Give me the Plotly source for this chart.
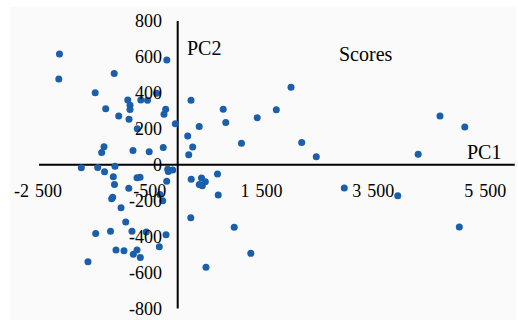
import plotly.graph_objects as go

pc1 = [-2115, -2127, -1136, -195, -1476, -893, -660, -540, -376, -1288,
       -853, -853, -215, -245, -1055, -871, -43, -723, -1318, -1360,
       -800, -510, -259, -1724, -1431, -1122, -179, -1309, -1152, -1131,
       -728, -674, -875, -168, -89, -197, -1181, -1163, -317, -268,
       -1014, -930, -1467, -1202, -818, -562, -209, -329, -1104, -961,
       -728, -794, -669, -1605,
       238, 814, 860, 385, 179, 268, 197, 1141, 1422, 1764,
       2027, 2218, 2479, 4692, 5136, 4302, 2980, 3936, 5038, 242,
       426, 494, 386, 440, 712, 725, 234, 1011, 1308, 506]
pc2 = [617, 478, 509, 584, 401, 361, 361, 360, 398, 312,
       331, 308, 309, 282, 272, 253, 228, 201, 101, 68,
       79, 72, 97, -17, -15, -8, -25, -39, -66, -109,
       -72, -70, -131, -38, -29, -92, -189, -181, -165, -200,
       -239, -318, -383, -370, -370, -374, -390, -456, -474, -478,
       -474, -498, -516, -540,
       359, 309, 236, 213, 160, 99, 56, 120, 262, 306,
       432, 124, 45, 272, 210, 59, -129, -172, -346, -81,
       -73, -94, -109, -116, -51, -168, -295, -348, -493, -571]

x_ticks = [-2500, -500, 1500, 3500, 5500]
x_labels = ["-2\u2004500", "-500", "1\u2004500", "3\u2004500", "5\u2004500"]
y_ticks = [-800, -600, -400, -200, 0, 200, 400, 600, 800]
y_labels = ["-800", "-600", "-400", "-200", "0", "200", "400", "600", "800"]

W, H = 518, 320
x0px, y0px = 177.7, 164.8
sx, sy = 0.0559, 0.1796
xr = [-x0px / sx, (W - x0px) / sx]
yr = [(y0px - H) / sy, y0px / sy]

font = "Liberation Serif, Times New Roman, serif"

fig = go.Figure()
fig.add_trace(go.Scatter(x=pc1, y=pc2, mode="markers",
                         marker=dict(size=7, color="#1b5eab"),
                         showlegend=False, hoverinfo="x+y"))

fig.update_layout(
    width=W, height=H,
    margin=dict(l=0, r=0, t=0, b=0),
    paper_bgcolor="white", plot_bgcolor="rgba(0,0,0,0)",
    font=dict(family=font, size=18, color="black"),
    xaxis=dict(range=xr, tickvals=x_ticks, ticktext=x_labels,
               showgrid=False, zeroline=False, showline=False,
               anchor="free", position=1 - y0px / H,
               ticks="outside", ticklen=10, tickcolor="rgba(0,0,0,0)",
               automargin=False, fixedrange=True),
    yaxis=dict(range=yr, tickvals=y_ticks, ticktext=y_labels,
               showgrid=False, zeroline=False, showline=False,
               anchor="free", position=x0px / W,
               ticks="outside", ticklen=12, tickcolor="rgba(0,0,0,0)",
               automargin=False, fixedrange=True),
    shapes=[
        dict(type="rect", xref="paper", yref="paper",
             x0=10 / W, x1=516 / W, y0=0, y1=1 - 7 / H,
             fillcolor="#fafafa", line=dict(width=0), layer="below"),
        dict(type="line", xref="x", yref="y", x0=-2480, x1=6030, y0=0, y1=0,
             line=dict(color="black", width=2), layer="below"),
        dict(type="line", xref="x", yref="y", x0=0, x1=0, y0=-800, y1=800,
             line=dict(color="black", width=2), layer="below"),
    ],
    annotations=[
        dict(text="Scores", xref="paper", yref="paper", x=366 / W, y=1 - 54 / H,
             showarrow=False, font=dict(size=20), xanchor="center", yanchor="middle"),
        dict(text="PC2", xref="paper", yref="paper", x=204 / W, y=1 - 47.5 / H,
             showarrow=False, font=dict(size=20), xanchor="center", yanchor="middle"),
        dict(text="PC1", xref="paper", yref="paper", x=484 / W, y=1 - 152 / H,
             showarrow=False, font=dict(size=20), xanchor="center", yanchor="middle"),
    ],
)

fig.write_html("out.html")
